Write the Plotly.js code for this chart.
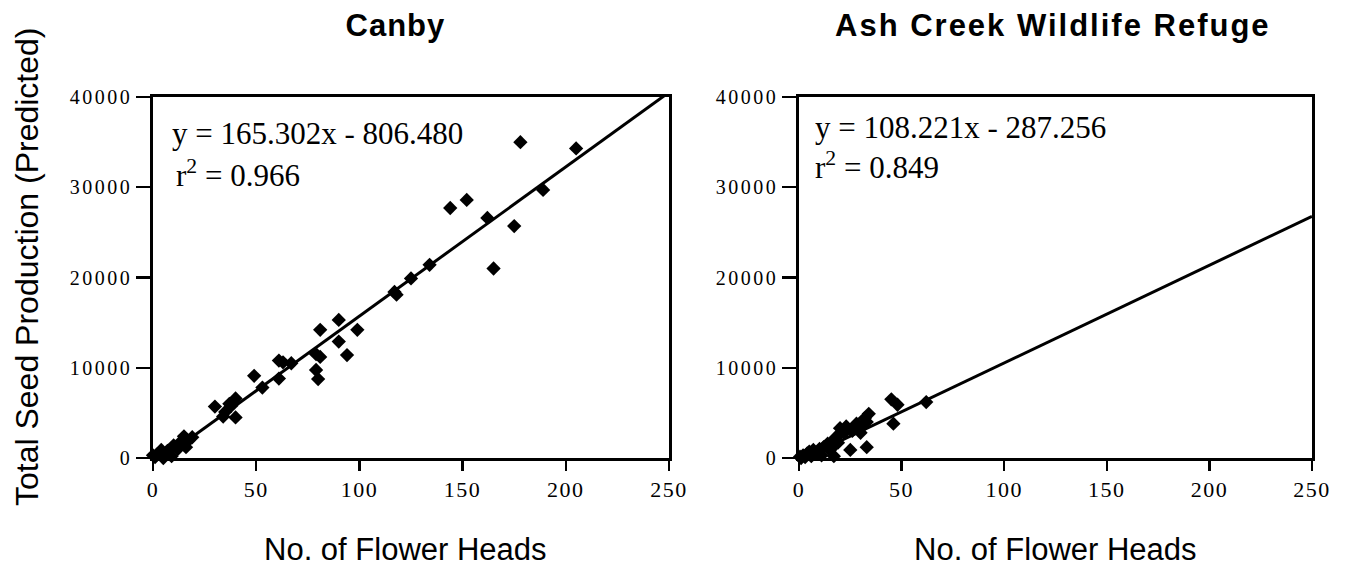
<!DOCTYPE html>
<html>
<head>
<meta charset="utf-8">
<script src="https://cdn.plot.ly/plotly-3.0.1.min.js"></script>
<style>html,body{margin:0;padding:0;background:#fff;} #chart{width:1349px;height:569px;}</style>
</head>
<body>
<div id="chart"></div>
<script>
// ---- Data ----
const canbyHeads = [178,205,189,144,152,162,175,165,134,125,117,118,81,90,99,90,94,79,81,79,80,61,63,67,61,49,53,30,40,37,35,34,40,38,15,19,16,10,13,6,3,0,9,12,4,1,7,17,2,5];
const canbySeeds = [35000,34300,29700,27700,28600,26600,25700,21000,21400,19900,18400,18100,14200,15300,14200,12900,11400,11500,11200,9750,8750,10800,10600,10500,8800,9100,7800,5700,6600,6000,5100,4600,4500,5800,2400,2300,1200,1400,1700,500,-200,300,200,1000,900,100,800,1900,400,0];
const ashHeads = [45,48,62,46,34,32,28,23,20,25,33,30,33,0.5,4,7,10,13.5,17,17,20,11,8.5,15,2,5,12,14,18,22,26,30,1,3,6,9,16,19];
const ashSeeds = [6500,5900,6200,3800,4900,4400,3800,3500,3300,900,1200,3300,4000,150,500,900,1000,1400,2000,200,2700,300,500,900,300,700,1200,1600,2300,2800,3000,2800,0,100,200,600,1100,1700];
const canbyFit = {slope: 165.302, intercept: -806.480, r2: 0.966};
const ashFit = {slope: 108.221, intercept: -287.256, r2: 0.849};
const xTicks = [0,50,100,150,200,250];
const yTicks = [0,10000,20000,30000,40000];
const panelTitles = ["Canby", "Ash Creek Wildlife Refuge"];
const xTitle = "No. of Flower Heads";
const yTitle = "Total Seed Production (Predicted)";

const W = 1349, H = 569;
const px = v => v / W;
const py = v => 1 - v / H;
const serif = 'Liberation Serif';
const sans = 'Liberation Sans';

function fitLine(fit, xa, ya) {
  const xs = [xTicks[0], xTicks[xTicks.length-1]];
  return {x: xs, y: xs.map(v => fit.slope * v + fit.intercept), mode: 'lines', type: 'scatter',
    line: {color: '#000', width: 3}, xaxis: xa, yaxis: ya, hoverinfo: 'skip', showlegend: false};
}
function pts(xs, ys, xa, ya) {
  return {x: xs, y: ys, mode: 'markers', type: 'scatter', cliponaxis: false,
    marker: {symbol: 'diamond', size: 11, color: '#000'}, xaxis: xa, yaxis: ya, showlegend: false};
}

const traces = [
  fitLine(canbyFit, 'x', 'y'), pts(canbyHeads, canbySeeds, 'x', 'y'),
  fitLine(ashFit, 'x2', 'y2'), pts(ashHeads, ashSeeds, 'x2', 'y2')
];

function xAxis(domain, anchor) {
  return {
    showgrid: false, zeroline: false, showline: true, linecolor: '#000', linewidth: 2.8,
    mirror: true, ticks: 'outside', tickcolor: '#000', tickwidth: 2.4,
    domain: domain, anchor: anchor, range: [0, 250],
    tickmode: 'array', tickvals: xTicks, ticktext: xTicks.map(String), ticklen: 10,
    tickfont: {family: serif, size: 22, color: '#000'}
  };
}
function yAxis(domain, anchor) {
  return {
    showgrid: false, zeroline: false, showline: true, linecolor: '#000', linewidth: 2.8,
    mirror: true, ticks: 'outside', tickcolor: '#000', tickwidth: 2.4,
    domain: domain, anchor: anchor, range: [0, 40000],
    tickmode: 'array', tickvals: yTicks, ticktext: yTicks.map(String), ticklen: 14,
    tickfont: {family: serif, size: 20, color: '#000'}
  };
}

function ann(text, x, y, font, extra) {
  return Object.assign({text: text, x: px(x), y: py(y), xref: 'paper', yref: 'paper', showarrow: false,
    xanchor: 'center', yanchor: 'middle', font: font}, extra || {});
}
const titleFont = {family: sans, size: 31, color: '#000', weight: 'bold'};
const labelFont = {family: sans, size: 31, color: '#000'};
const eqFont = {family: serif, size: 31, color: '#000'};

const annotations = [
  ann(panelTitles[0], 396, 25, titleFont),
  ann(panelTitles[1], 1053, 25, titleFont),
  ann(xTitle, 405, 549, labelFont),
  ann(xTitle, 1055, 549, labelFont),
  ann(yTitle, 27, 267, {family: sans, size: 32, color: '#000'}, {textangle: -90}),
  ann('y = ' + canbyFit.slope.toFixed(3) + 'x - ' + Math.abs(canbyFit.intercept).toFixed(3), 170, 133, eqFont, {xanchor: 'left'}),
  ann('r<sup>2</sup> = ' + canbyFit.r2.toFixed(3), 174, 173, eqFont, {xanchor: 'left'}),
  ann('y = ' + ashFit.slope.toFixed(3) + 'x - ' + Math.abs(ashFit.intercept).toFixed(3), 813, 127, eqFont, {xanchor: 'left'}),
  ann('r<sup>2</sup> = ' + ashFit.r2.toFixed(3), 813, 165, eqFont, {xanchor: 'left'})
];

const layout = {
  width: W, height: H, margin: {l: 0, r: 0, t: 0, b: 0},
  paper_bgcolor: '#fff', plot_bgcolor: '#fff', showlegend: false,
  font: {family: serif, size: 18, color: '#000'},
  xaxis: xAxis([px(153), px(669)], 'y'),
  yaxis: yAxis([py(458), py(97)], 'x'),
  xaxis2: xAxis([px(799), px(1312)], 'y2'),
  yaxis2: yAxis([py(458), py(97)], 'x2'),
  annotations: annotations
};

Plotly.newPlot('chart', traces, layout, {staticPlot: true}).then(() => {
  document.querySelectorAll('.annotation-text').forEach(t => {
    if (t.textContent === panelTitles[1]) t.style.letterSpacing = '2px';
    if (t.textContent === panelTitles[0]) t.style.letterSpacing = '1px';
  });
  document.querySelectorAll('.xtick text, .x2tick text').forEach(t => {
    t.style.fontFamily = serif; t.style.letterSpacing = '1.5px';
  });
  document.querySelectorAll('.ytick text, .y2tick text').forEach(t => {
    t.style.fontFamily = serif; t.style.letterSpacing = '2.5px';
  });
});
</script>
</body>
</html>
